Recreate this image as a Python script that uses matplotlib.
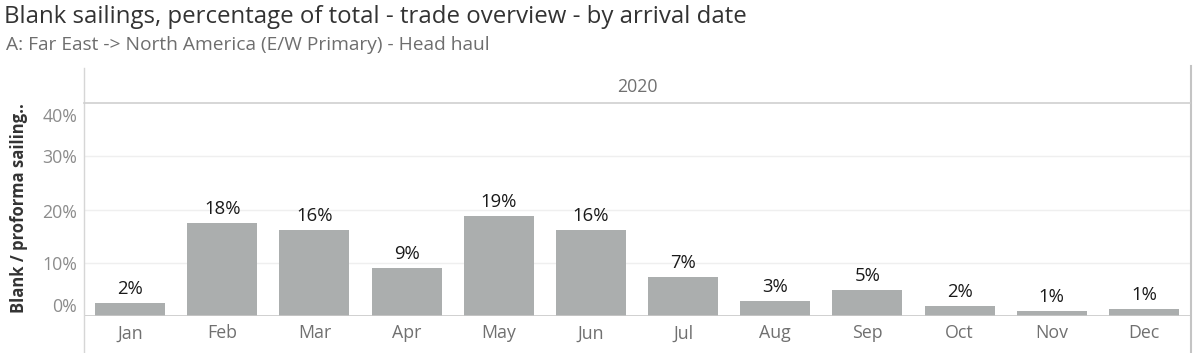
import matplotlib
matplotlib.use("Agg")
import matplotlib.pyplot as plt
from matplotlib.lines import Line2D

months = ["Jan", "Feb", "Mar", "Apr", "May", "Jun", "Jul", "Aug", "Sep", "Oct", "Nov", "Dec"]
values = [2.4, 17.5, 16.1, 9.0, 18.8, 16.1, 7.3, 2.9, 4.8, 1.8, 0.9, 1.3]
yticks = [0, 10, 20, 30, 40]
year = "2020"
title = "Blank sailings, percentage of total - trade overview - by arrival date"
subtitle = "A: Far East -> North America (E/W Primary) - Head haul"
ylabel = "Blank / proforma sailing.."

plt.rcParams['font.family'] = ['Open Sans', 'DejaVu Sans']

W, H = 1200, 353
fig = plt.figure(figsize=(W / 100, H / 100), dpi=100)
fig.patch.set_facecolor("white")

def fx(px):
    return px / W

def fy(py):
    return 1 - py / H

PT = 0.72  # points per pixel at 100 dpi

left, right, top, bottom = 84, 1190, 103, 316
ax = fig.add_axes([fx(left), fy(bottom), fx(right - left), (bottom - top) / H])
x = list(range(len(months)))
ax.bar(x, values, width=0.76, color="#ABAEAE", zorder=3)
ax.set_xlim(-0.5, len(months) - 0.5)
ax.set_ylim(0, 40)
for s in ax.spines.values():
    s.set_visible(False)
ax.set_yticks(yticks)
ax.set_yticklabels([])
ax.tick_params(axis="both", length=0)
ax.set_xticks(x)
ax.set_xticklabels(months, color="#707070", fontsize=12.8)
ax.tick_params(axis="x", pad=6)
for t in yticks[1:-1]:
    ax.axhline(t, color="#EFEFEF", lw=1, zorder=1)
ax.axhline(0, color="#C8C8C8", lw=1.2, zorder=4)

# y tick labels (Tableau keeps end labels inside the axis)
offsets = {0: 9, 10: -2, 20: -3, 30: -2, 40: -14}
for t in yticks:
    ax.annotate(f"{t}%", xy=(0, t), xycoords=("axes fraction", "data"),
                xytext=(-7 * PT, offsets[t] * PT), textcoords="offset points",
                ha="right", va="center", color="#8C8C8C", fontsize=12.8)

for xi, v in zip(x, values):
    ax.annotate(f"{round(v)}%", xy=(xi, v), xytext=(0, 5 * PT), textcoords="offset points",
                ha="center", va="bottom", color="#1A1A1A", fontsize=13.3)

# frame lines
fig.add_artist(Line2D([fx(84), fx(84)], [fy(68), 0], color="#D6D6D6", lw=1))
fig.add_artist(Line2D([fx(1191), fx(1191)], [fy(66), 0], color="#C4C4C4", lw=1.5))
fig.add_artist(Line2D([fx(84), fx(1190)], [fy(103), fy(103)], color="#CFCFCF", lw=1.2))

fig.text(fx(637), fy(87), year, ha="center", va="center", color="#707070", fontsize=12.8)
fig.text(fx(4), fy(17), title, ha="left", va="center", color="#333333", fontsize=17.3)
fig.text(fx(6), fy(45), subtitle, ha="left", va="center", color="#6E6E6E", fontsize=13.8)
fig.text(fx(19), fy(208), ylabel, ha="center", va="center", rotation=90,
         color="#333333", fontsize=12, fontweight="bold")

fig.savefig("out.png", dpi=100, facecolor="white")
